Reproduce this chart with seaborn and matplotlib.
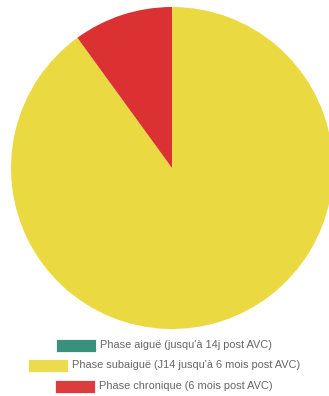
import matplotlib
matplotlib.use("Agg")
import matplotlib.pyplot as plt
import seaborn as sns
from matplotlib.patches import Rectangle

sns.set_theme(style="white")
plt.rcParams['font.family'] = ['Liberation Sans', 'DejaVu Sans']

labels = [
    "Phase aiguë (jusqu'à 14j post AVC)",
    "Phase subaiguë (J14 jusqu'à 6 mois post AVC)",
    "Phase chronique (6 mois post AVC)",
]
values = [0, 90, 10]
colors = ["#2e8b74", "#ebd942", "#dc3133"]

W, H = 329, 396
fig = plt.figure(figsize=(W / 100, H / 100), dpi=100)
fig.patch.set_facecolor("white")

# pie area in pixel coordinates
cx, cy, r = 172, 168, 161
ax = fig.add_axes([(cx - r) / W, (H - cy - r) / H, 2 * r / W, 2 * r / H])
ax.pie(values, colors=colors, startangle=90, counterclock=False,
       wedgeprops=dict(linewidth=0))
ax.set_xlim(-1, 1)
ax.set_ylim(-1, 1)
ax.set_aspect("auto")
ax.axis("off")

# centred legend rows
fig.canvas.draw()
renderer = fig.canvas.get_renderer()
box_w, box_h, gap = 40, 13, 4
row_y = [345.5, 365.5, 386]
center_x = 164
for lab, col, yc in zip(labels, colors, row_y):
    t = fig.text(0, 0, lab, fontsize=7.9, color="#666666", va="center", ha="left")
    tw = t.get_window_extent(renderer).width
    total = box_w + gap + tw
    x0 = center_x - total / 2
    fig.patches.append(Rectangle((x0 / W, (H - yc - box_h / 2) / H), box_w / W, box_h / H,
                                 transform=fig.transFigure, facecolor=col,
                                 edgecolor="white", linewidth=0.6, alpha=0.95))
    t.set_position(((x0 + box_w + gap) / W, (H - yc) / H))

fig.savefig("out.png", dpi=100, facecolor="white")
